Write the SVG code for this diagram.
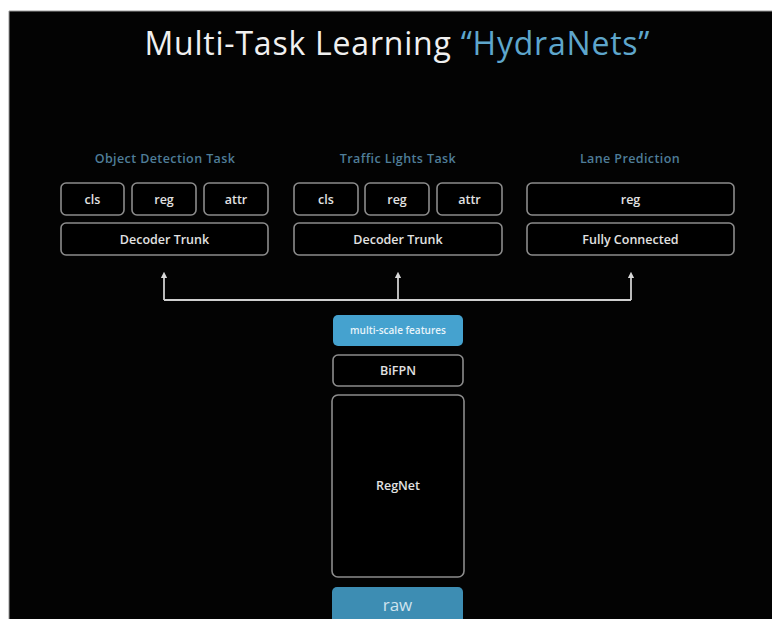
<svg xmlns="http://www.w3.org/2000/svg" width="772" height="619" viewBox="0 0 772 619">
<defs>
<marker id="arr" viewBox="0 0 10 10" refX="5" refY="5" markerWidth="3.6" markerHeight="3.6" orient="auto">
<path d="M0,0 L10,5 L0,10 z" fill="#d8d8d8"/>
</marker>
<style>
.box{fill:#000;stroke:#8c8c8c;stroke-width:1.6}
.lbl{font-family:"Open Sans",Lato,sans-serif;font-size:12.5px;font-weight:600;fill:#e2e2e2;text-anchor:middle}
.task{font-family:"Open Sans",Lato,sans-serif;font-size:12.5px;font-weight:600;fill:#4f7d98;text-anchor:middle;letter-spacing:0.4px}
.conn{fill:none;stroke:#cfcfcf;stroke-width:1.8}
</style>
</defs>
<rect x="0" y="0" width="772" height="619" fill="#ffffff"/>
<rect x="9" y="11" width="763" height="608" fill="#030303"/>
<line x1="9" y1="11" x2="772" y2="11" stroke="#9a9a9a" stroke-width="1"/>
<line x1="9" y1="11" x2="9" y2="619" stroke="#9a9a9a" stroke-width="1"/>
<g id="title">
<text x="397" y="55" font-family="'Open Sans',Lato,sans-serif" font-size="32" fill="#f0f0f0" text-anchor="middle" textLength="505" lengthAdjust="spacing">Multi-Task Learning <tspan fill="#5ea6cc">“HydraNets”</tspan></text>
</g>
<g id="task-object-detection">
<text class="task" x="165" y="163">Object Detection Task</text>
</g>
<g id="task-traffic-lights">
<text class="task" x="398" y="163">Traffic Lights Task</text>
</g>
<g id="task-lane">
<text class="task" x="630" y="163">Lane Prediction</text>
</g>
<g id="od-cls"><rect class="box" x="61" y="183" width="63" height="32" rx="5"/><text class="lbl" x="92.5" y="203.5">cls</text></g>
<g id="od-reg"><rect class="box" x="132" y="183" width="64" height="32" rx="5"/><text class="lbl" x="164" y="203.5">reg</text></g>
<g id="od-attr"><rect class="box" x="204" y="183" width="64" height="32" rx="5"/><text class="lbl" x="236" y="203.5">attr</text></g>
<g id="od-decoder"><rect class="box" x="61" y="223" width="207" height="32" rx="5"/><text class="lbl" x="164.5" y="243.5">Decoder Trunk</text></g>
<g id="tl-cls"><rect class="box" x="294" y="183" width="64" height="32" rx="5"/><text class="lbl" x="326" y="203.5">cls</text></g>
<g id="tl-reg"><rect class="box" x="365" y="183" width="64" height="32" rx="5"/><text class="lbl" x="397" y="203.5">reg</text></g>
<g id="tl-attr"><rect class="box" x="437" y="183" width="65" height="32" rx="5"/><text class="lbl" x="469.5" y="203.5">attr</text></g>
<g id="tl-decoder"><rect class="box" x="294" y="223" width="208" height="32" rx="5"/><text class="lbl" x="398" y="243.5">Decoder Trunk</text></g>
<g id="lane-reg"><rect class="box" x="527" y="183" width="207" height="32" rx="5"/><text class="lbl" x="630.5" y="203.5">reg</text></g>
<g id="lane-fc"><rect class="box" x="527" y="223" width="207" height="32" rx="5"/><text class="lbl" x="630.5" y="243.5">Fully Connected</text></g>
<g id="connectors">
<path class="conn" d="M164,300 H631"/>
<path class="conn" d="M164,300 V275" marker-end="url(#arr)"/>
<path class="conn" d="M398,300 V275" marker-end="url(#arr)"/>
<path class="conn" d="M631,300 V275" marker-end="url(#arr)"/>
</g>
<g id="multi-scale-features"><rect x="333" y="315" width="130" height="31" rx="5" fill="#45a2cf"/><text x="398" y="334" font-family="'Open Sans',Lato,sans-serif" font-size="10" font-weight="600" fill="#e8f4fa" text-anchor="middle">multi-scale features</text></g>
<g id="bifpn"><rect class="box" x="333" y="355" width="130" height="31" rx="5"/><text class="lbl" x="398" y="375">BiFPN</text></g>
<g id="regnet"><rect class="box" x="332" y="395" width="132" height="182" rx="6"/><text class="lbl" x="398" y="490">RegNet</text></g>
<g id="raw"><rect x="332" y="587" width="131" height="40" rx="5" fill="#3d8db3"/><text x="397.5" y="611" font-family="'Open Sans',Lato,sans-serif" font-size="17" fill="#cfe3ee" text-anchor="middle">raw</text></g>
</svg>
